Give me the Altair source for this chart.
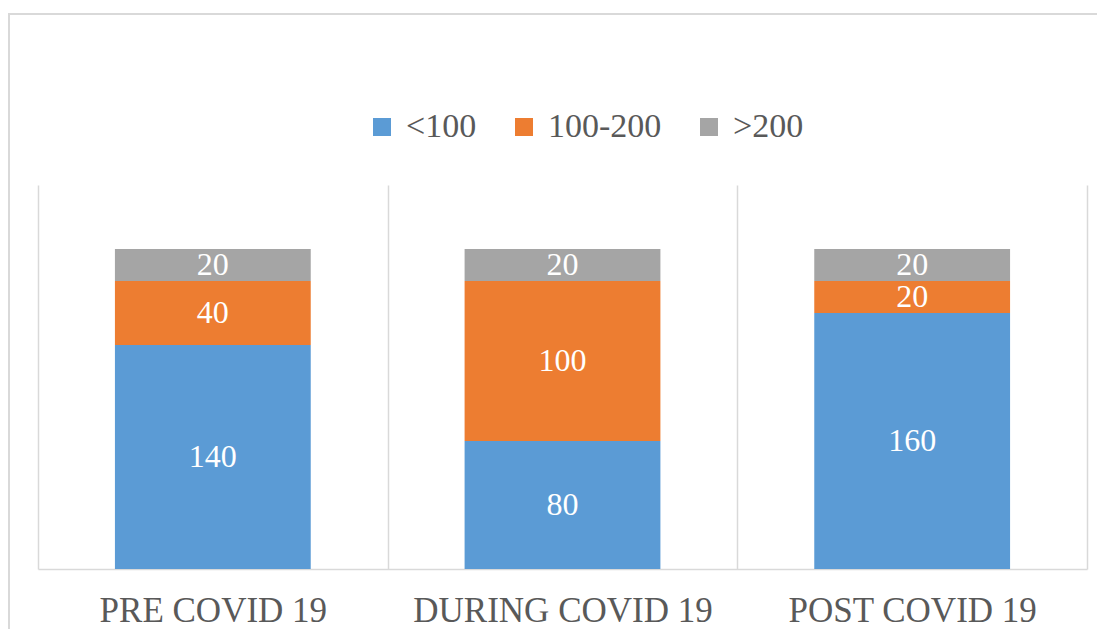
import altair as alt
import pandas as pd

categories = ["PRE COVID 19", "DURING COVID 19", "POST COVID 19"]
groups = ["<100", "100-200", ">200"]
values_lt100 = [140, 80, 160]
values_100_200 = [40, 100, 20]
values_gt200 = [20, 20, 20]
colors = ["#5B9BD5", "#ED7D31", "#A5A5A5"]

series = [values_lt100, values_100_200, values_gt200]
rows = []
for i, c in enumerate(categories):
    for j, g in enumerate(groups):
        rows.append({"category": c, "group": g, "order": j, "value": series[j][i]})
df = pd.DataFrame(rows)

FONT = "Liberation Serif"

base = alt.Chart(df).transform_stack(
    stack="value", groupby=["category"], sort=[alt.SortField("order")], as_=["y0", "y1"]
).transform_calculate(mid="(datum.y0 + datum.y1) / 2")

xscale = alt.Scale(paddingInner=0, paddingOuter=0)
x = alt.X(
    "category:N",
    sort=categories,
    scale=xscale,
    axis=alt.Axis(
        title=None, labelAngle=0, tickBand="extent", grid=True, gridColor="#D9D9D9",
        gridWidth=1.5, domainColor="#D9D9D9", domainWidth=1.5, ticks=False, tickSize=0,
        labelFont=FONT, labelFontSize=35, labelColor="#595959", labelPadding=24,
        labelLimit=0,
    ),
)
yscale = alt.Scale(domain=[0, 240])

bars = base.mark_bar(width=alt.RelativeBandSize(0.56)).encode(
    x=x,
    y=alt.Y("y0:Q", scale=yscale, axis=None),
    y2="y1:Q",
    color=alt.Color(
        "group:N",
        scale=alt.Scale(domain=groups, range=colors),
        legend=alt.Legend(
            title=None, orient="none", direction="horizontal", legendX=327, legendY=-75,
            symbolType="square", symbolSize=324, symbolStrokeWidth=0,
            labelFont=alt.ExprRef(expr="'Liberation Serif'"),
            labelFontSize=34, labelColor="#595959", labelOffset=7, columnPadding=30, padding=0,
        ),
    ),
)

labels = base.mark_text(font=FONT, fontSize=32, color="white", baseline="middle").encode(
    x=alt.X("category:N", sort=categories, scale=xscale),
    y=alt.Y("mid:Q", scale=yscale),
    text="value:Q",
)

frame = alt.Chart(pd.DataFrame({"a": [0]})).mark_rect(
    filled=False, stroke="#D9D9D9", strokeWidth=2
).encode(x=alt.value(-29), x2=alt.value(1300), y=alt.value(-171), y2=alt.value(700))

chart = alt.layer(frame, bars, labels).properties(
    width=1049, height=384, autosize="none",
    padding={"left": 30, "top": 177, "right": 10, "bottom": 60},
).configure(font=FONT).configure_view(strokeWidth=0)

chart.save("out.html", embed_options={"renderer": "svg", "actions": False})
